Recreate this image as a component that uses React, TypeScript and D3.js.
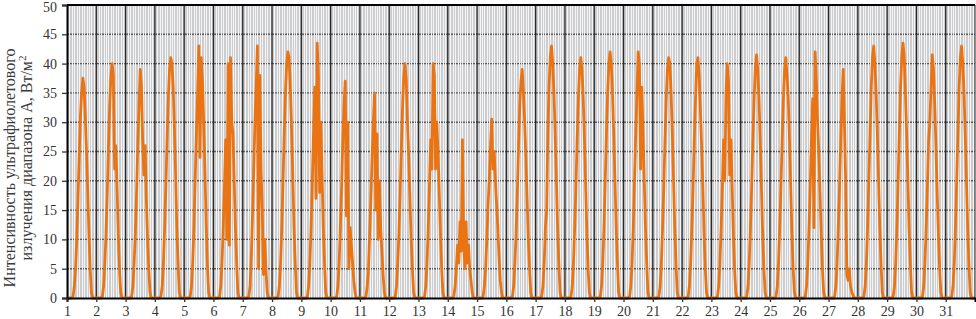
import * as d3 from 'd3'
import { useEffect, useRef } from 'react'

// hours of the day sampled for each day (night values are zero)
const hours = [4, 5, 6, 7, 8, 9, 10, 11, 12, 13, 14, 15, 16, 17, 18, 19, 20, 21]

const d1 = [0, 0.3, 2, 5, 10, 17, 24, 31, 35, 37.5, 36, 31, 25, 18, 11, 5, 1, 0]
const d2 = [0, 0.3, 2, 6, 11, 18, 26, 33, 38, 40, 38, 22, 26, 19, 11, 5, 1, 0]
const d3_ = [0, 0.3, 2, 6, 11, 18, 26, 33, 39, 36, 27, 21, 26, 17, 10, 5, 1, 0]
const d4 = [0, 0.3, 2, 6, 12, 19, 27, 34, 39, 41, 40, 36, 29, 21, 12, 6, 1, 0]
const d5 = [0, 0.3, 2, 6, 12, 20, 28, 35, 43, 24, 41, 37, 30, 22, 13, 6, 1, 0]
const d6 = [0, 0.3, 2, 6, 12, 19, 27, 10, 40, 9, 41, 30, 28, 20, 12, 6, 1, 0]
const d7 = [0, 0.3, 2, 7, 14, 22, 30, 36, 43, 5, 38, 22, 15, 4, 10, 5, 1, 0]
const d8 = [0, 0.3, 2, 6, 12, 20, 28, 35, 40, 42, 41, 36, 29, 21, 12, 6, 1, 0]
const d9 = [0, 0.3, 2, 6, 12, 20, 28, 36, 17, 43.5, 38, 18, 30, 21, 12, 6, 1, 0]
const d10 = [0, 0.3, 2, 6, 12, 19, 27, 33, 37, 14, 30, 5, 12, 9, 6, 3, 1, 0]
const d11 = [0, 0.3, 2, 5, 11, 17, 24, 30, 35, 15, 28, 10, 20, 12, 8, 4, 1, 0]
const d12 = [0, 0.3, 2, 6, 11, 18, 26, 33, 38, 40, 37, 30, 24, 17, 10, 5, 1, 0]
const d13 = [0, 0.3, 2, 6, 12, 19, 27, 22, 40, 38, 22, 30, 25, 18, 11, 5, 1, 0]
const d14 = [0, 0.3, 2, 5, 9, 6, 13, 8, 27, 10, 5, 13, 6, 9, 5, 3, 1, 0]
const d15 = [0, 0.3, 2, 5, 10, 16, 20, 26, 30.5, 22, 25, 20, 16, 12, 7, 3, 1, 0]
const d16 = [0, 0.3, 2, 6, 11, 18, 26, 33, 37, 39, 35, 30, 24, 17, 10, 5, 1, 0]
const d17 = [0, 0.3, 2, 6, 12, 15, 28, 36, 41, 43, 40, 35, 28, 20, 12, 6, 1, 0]
const d18 = [0, 0.3, 2, 6, 12, 19, 27, 34, 39, 41, 39, 34, 27, 19, 11, 5, 1, 0]
const d19 = [0, 0.3, 2, 6, 12, 20, 28, 35, 40, 42, 40, 35, 28, 20, 12, 6, 1, 0]
const d20 = [0, 0.3, 2, 6, 12, 20, 28, 35, 42, 40, 22, 36, 28, 20, 12, 6, 1, 0]
const d21 = [0, 0.3, 2, 6, 12, 19, 27, 34, 39, 41, 40, 35, 28, 20, 12, 6, 1, 0]
const d22 = [0, 0.3, 2, 6, 12, 19, 27, 34, 40, 41, 38, 32, 26, 19, 11, 5, 1, 0]
const d23 = [0, 0.3, 2, 6, 12, 19, 27, 20, 35, 40, 37, 21, 27, 19, 11, 5, 1, 0]
const d24 = [0, 0.3, 2, 6, 12, 19, 27, 34, 39, 41.5, 39, 34, 27, 19, 11, 5, 1, 0]
const d25 = [0, 0.3, 2, 6, 12, 19, 27, 34, 39, 41, 38, 34, 27, 19, 11, 5, 1, 0]
const d26 = [0, 0.3, 2, 6, 12, 19, 27, 34, 12, 42, 37, 30, 25, 18, 11, 5, 1, 0]
const d27 = [0, 0.3, 2, 6, 12, 19, 27, 34, 39, 30, 20, 4, 3, 5, 2, 1, 0.5, 0]
const d28 = [0, 0.3, 2, 6, 12, 20, 28, 36, 41, 43, 40, 35, 28, 20, 12, 6, 1, 0]
const d29 = [0, 0.3, 2, 6, 12, 20, 28, 36, 41, 43.5, 41, 35, 28, 20, 12, 6, 1, 0]
const d30 = [0, 0.3, 2, 6, 12, 19, 27, 30, 36, 41.5, 39, 33, 26, 18, 11, 5, 1, 0]
const d31 = [0, 0.3, 2, 6, 12, 20, 28, 36, 41, 43, 40, 35, 28, 20, 12, 6, 1, 0]

const days = [d1, d2, d3_, d4, d5, d6, d7, d8, d9, d10, d11, d12, d13, d14, d15, d16,
  d17, d18, d19, d20, d21, d22, d23, d24, d25, d26, d27, d28, d29, d30, d31]

const dayLabels = d3.range(1, 32).map(String)
const yTicks = [0, 5, 10, 15, 20, 25, 30, 35, 40, 45, 50]

const W = 976
const H = 319

export default function App() {
  const svgRef = useRef(null) as any

  useEffect(() => {
    document.body.style.margin = '0'
    const svg = d3.select(svgRef.current)
    svg.selectAll('*').remove()

    const left = 67, right = 975, top = 5, bottom = 298
    const x = d3.scaleLinear().domain([0, days.length * 24]).range([left, right])
    const y = d3.scaleLinear().domain([0, 50]).range([bottom, top])

    const points: [number, number][] = []
    days.forEach((vals, i) => {
      vals.forEach((v, j) => points.push([i * 24 + hours[j], v]))
    })
    points.unshift([0, 0])
    points.push([days.length * 24, 0])

    svg.append('rect')
      .attr('x', left).attr('y', top)
      .attr('width', right - left).attr('height', bottom - top)
      .attr('fill', '#cdcdcd')

    // horizontal grid
    svg.append('g')
      .selectAll('line')
      .data(yTicks.slice(1, -1))
      .join('line')
      .attr('x1', left).attr('x2', right)
      .attr('y1', d => y(d)).attr('y2', d => y(d))
      .attr('stroke', '#5a5a5a')
      .attr('stroke-width', 1.4)

    // minor 2-hour grid
    const minor = d3.range(0, days.length * 24, 2).filter(h => h % 24 !== 0)
    svg.append('g')
      .selectAll('line')
      .data(minor)
      .join('line')
      .attr('x1', d => Math.round(x(d)) + 0.5).attr('x2', d => Math.round(x(d)) + 0.5)
      .attr('y1', top).attr('y2', bottom)
      .attr('stroke', '#f3f5f8')
      .attr('stroke-width', 1)

    // day lines
    svg.append('g')
      .selectAll('line')
      .data(d3.range(1, days.length))
      .join('line')
      .attr('x1', d => x(d * 24)).attr('x2', d => x(d * 24))
      .attr('y1', top).attr('y2', bottom)
      .attr('stroke', '#2a2a2a')
      .attr('stroke-width', 1.3)

    const line = d3.line<[number, number]>()
      .x(d => x(d[0]))
      .y(d => y(d[1]))

    svg.append('path')
      .datum(points)
      .attr('d', line)
      .attr('fill', 'none')
      .attr('stroke', '#ea7414')
      .attr('stroke-width', 2.8)
      .attr('stroke-linejoin', 'round')

    // frame
    svg.append('line')
      .attr('x1', left).attr('x2', right).attr('y1', top).attr('y2', top)
      .attr('stroke', '#000').attr('stroke-width', 2)
    svg.append('line')
      .attr('x1', right).attr('x2', right).attr('y1', top).attr('y2', bottom)
      .attr('stroke', '#222').attr('stroke-width', 1)

    const yAxis = d3.axisLeft(y).tickValues(yTicks).tickSize(5).tickPadding(5)
    svg.append('g')
      .attr('transform', `translate(${left},0)`)
      .call(yAxis)
      .call(g => g.select('.domain').attr('stroke', '#000').attr('stroke-width', 2))
      .call(g => g.selectAll('.tick line').attr('stroke', '#333').attr('stroke-width', 1.3))
      .call(g => g.selectAll('.tick text').filter((d: any) => d === 50).attr('dy', '0.45em'))

    const xAxis = d3.axisBottom(x)
      .tickValues(d3.range(0, days.length).map(i => i * 24))
      .tickFormat((_d, i) => dayLabels[i])
      .tickSize(4).tickPadding(4)
    svg.append('g')
      .attr('transform', `translate(0,${bottom})`)
      .call(xAxis)
      .call(g => g.select('.domain').attr('stroke', '#000').attr('stroke-width', 2))
      .call(g => g.selectAll('.tick line').attr('stroke', '#333').attr('stroke-width', 1.3))

    svg.selectAll('.tick text')
      .attr('font-family', '"Liberation Serif", "Times New Roman", serif')
      .attr('font-size', 14)
      .attr('fill', '#333')

    const label = svg.append('g')
      .attr('font-family', '"Liberation Serif", "Times New Roman", serif')
      .attr('font-size', 16)
      .attr('fill', '#3a3a3a')
      .attr('text-anchor', 'middle')
    label.append('text')
      .attr('transform', 'translate(15,168) rotate(-90)')
      .text('Интенсивность ультрафиолетового')
    const t2 = label.append('text')
      .attr('transform', 'translate(32,158) rotate(-90)')
    t2.append('tspan').text('излучения диапазона А, Вт/м')
    t2.append('tspan').attr('font-size', 11).attr('dy', -6).text('2')
  }, [])

  return (
    <svg ref={svgRef} width={W} height={H}
      style={{ display: 'block', position: 'absolute', left: 0, top: 0, background: '#fff' }} />
  )
}
